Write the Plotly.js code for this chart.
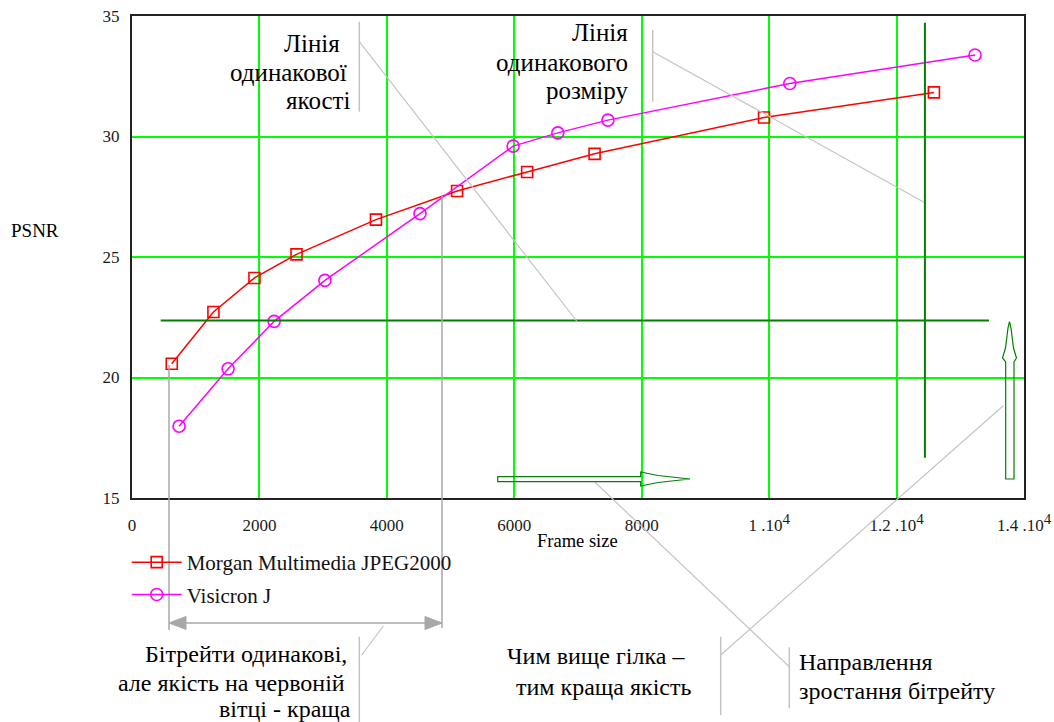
<!DOCTYPE html>
<html><head><meta charset="utf-8">
<script src="https://cdn.plot.ly/plotly-3.0.1.min.js"></script>
<style>html,body{margin:0;padding:0;background:#fff}#chart{width:1054px;height:722px}</style>
</head><body><div id="chart"></div>
<script>
// ---- data ----
const seriesNames = ['Morgan Multimedia JPEG2000', 'Visicron J'];
const morganFrameSize = [624, 1278, 1922, 2582, 3829, 5102, 6202, 7260, 9920, 12586];
const morganPSNR      = [20.57, 22.72, 24.13, 25.11, 26.55, 27.74, 28.53, 29.28, 30.79, 31.83];
const visicronFrameSize = [739, 1508, 2231, 3028, 4520, 5982, 6683, 7469, 10324, 13231];
const visicronPSNR      = [17.98, 20.36, 22.33, 24.03, 26.8, 29.6, 30.15, 30.68, 32.2, 33.38];
const xTickValues = [0, 2000, 4000, 6000, 8000, 10000, 12000, 14000];
const xTickLabels = ['0', '2000', '4000', '6000', '8000',
  '1 .10<sup><span style="font-size:15px">4</span></sup>',
  '1.2 .10<sup><span style="font-size:15px">4</span></sup>',
  '1.4 .10<sup><span style="font-size:15px">4</span></sup>'];
const yTickValues = [15, 20, 25, 30, 35];
const yTickLabels = ['15', '20', '25', '30', '35'];
const xAxisLabel = 'Frame size';
const yAxisLabel = 'PSNR';
const noteSameQuality = ['Лінія', 'одинакової', 'якості'];
const noteSameSize = ['Лінія', 'одинакового', 'розміру'];
const noteBitrates = ['Бітрейти одинакові,', 'але якість на червоній', 'вітці - краща'];
const noteHigher = ['Чим вище гілка –', 'тим краща якість'];
const noteDirection = ['Направлення', 'зростання бітрейту'];
// reference lines (data units)
const sameQualityPSNR = 22.37;
const sameSizeFrame = 12445;

// ---- layout helpers (pixel -> paper) ----
const L = 132, R = 1024, T = 16, B = 498;
const px = x => (x - L) / (R - L);
const py = y => (B - y) / (B - T);
const SERIF = "'Liberation Serif', 'Times New Roman', serif";

function seg(x0, y0, x1, y1, color, width) {
  return {type: 'line', xref: 'paper', yref: 'paper', x0: px(x0), y0: py(y0), x1: px(x1), y1: py(y1),
          line: {color: color, width: width}, layer: 'above'};
}
function poly(pts, line, fill, w) {
  const d = pts.map((p, i) => (i ? 'L' : 'M') + px(p[0]).toFixed(5) + ',' + py(p[1]).toFixed(5)).join(' ') + ' Z';
  return {type: 'path', xref: 'paper', yref: 'paper', path: d, line: {color: line, width: w || 1.2},
          fillcolor: fill, layer: 'above'};
}
function whiteBox(x0, y0, x1, y1) {
  return {type: 'rect', xref: 'paper', yref: 'paper', x0: px(x0), y0: py(y0), x1: px(x1), y1: py(y1),
          line: {width: 0}, fillcolor: '#fff', layer: 'between'};
}

const traces = [
  {x: morganFrameSize, y: morganPSNR, name: seriesNames[0], type: 'scatter', mode: 'lines+markers',
   line: {color: '#ff0000', width: 1.5},
   marker: {symbol: 'square-open', size: 11, color: '#ff0000', line: {width: 1.6, color: '#ff0000'}},
   legendgroup: 'a'},
  {x: visicronFrameSize, y: visicronPSNR, name: seriesNames[1], type: 'scatter', mode: 'lines+markers',
   line: {color: '#ff00ff', width: 1.5},
   marker: {symbol: 'circle-open', size: 12, color: '#ff00ff', line: {width: 1.6, color: '#ff00ff'}},
   legendgroup: 'b'}
];

const gLight = '#c4c4c4', gMid = '#a8a8a8', dkGreen = '#008000';
const shapes = [
  // white gaps in the grid behind the top notes
  whiteBox(230, 25, 356, 118),
  whiteBox(498, 28, 632, 95),
  // dark green reference lines
  {type: 'line', xref: 'x', yref: 'y', x0: 450, x1: 13450, y0: sameQualityPSNR, y1: sameQualityPSNR,
   line: {color: dkGreen, width: 2}},
  {type: 'line', xref: 'x', yref: 'y', x0: sameSizeFrame, x1: sameSizeFrame, y0: 16.67, y1: 34.72,
   line: {color: dkGreen, width: 2}},
  // leader for "same quality"
  seg(359.3, 21.7, 359.3, 111.7, gLight, 1.5),
  seg(359.3, 41.7, 576.7, 321, gLight, 1.2),
  // leader for "same size"
  seg(652.7, 30, 652.7, 101.7, gLight, 1.5),
  seg(652.7, 51.7, 924, 202.3, gLight, 1.2),
  // equal bitrate bracket
  seg(169, 365, 169, 630, gMid, 1.5),
  seg(442, 195, 442, 628, gMid, 1.5),
  seg(180, 623, 432, 623, gMid, 1.5),
  poly([[169, 623], [186, 616.5], [186, 629.5]], gMid, gMid, 1),
  poly([[442, 623], [425, 616.5], [425, 629.5]], gMid, gMid, 1),
  seg(383.3, 626, 361.7, 655, gLight, 1.2),
  seg(359.3, 636.7, 359.3, 722, gLight, 1.5),
  // "higher branch" leader
  seg(720.7, 636.7, 720.7, 715, gLight, 1.5),
  seg(720.7, 655, 1003.3, 405.7, gLight, 1.2),
  // "bitrate direction" leader
  seg(789.3, 647.3, 789.3, 708.3, gLight, 1.5),
  seg(789.3, 666.7, 595, 482.3, gLight, 1.2),
  // hollow green arrows
  poly([[497.7, 476.7], [640.7, 476.7], [640.7, 472], [648, 473.5], [658, 475.5], [690, 479],
        [658, 482.5], [648, 484.5], [640.7, 486], [640.7, 481.7], [497.7, 481.7]], dkGreen, 'rgba(0,0,0,0)', 1.2),
  poly([[1005.7, 479], [1014, 479], [1014, 362], [1016.5, 358], [1013.5, 348], [1012, 336], [1011, 328],
        [1009.5, 321.7], [1008, 328], [1007, 336], [1005.5, 348], [1002.5, 358], [1005.7, 362]], dkGreen, 'rgba(0,0,0,0)', 1.2)
];

const ann = (text, x, y, xa, size) => ({
  text: text, xref: 'paper', yref: 'paper', x: px(x), y: py(y), xanchor: xa, yanchor: 'middle',
  align: xa === 'center' ? 'center' : xa, showarrow: false, font: {family: SERIF, size: size, color: '#000'},
  borderpad: 0
});

const annotations = [
  ann(noteSameQuality[0], 341, 43, 'right', 25),
  ann(noteSameQuality[1], 348, 72.5, 'right', 25),
  ann(noteSameQuality[2], 352, 100.5, 'right', 25),
  ann(noteSameSize[0], 629, 33, 'right', 25),
  ann(noteSameSize[1], 629, 63, 'right', 25),
  ann(noteSameSize[2], 629, 90.5, 'right', 25),
  ann(noteBitrates[0], 348, 654, 'right', 24),
  ann(noteBitrates[1], 346, 683, 'right', 24),
  ann(noteBitrates[2], 352, 709, 'right', 24),
  ann(noteHigher[0], 686, 656, 'right', 24),
  ann(noteHigher[1], 692, 687, 'right', 24),
  ann(noteDirection[0], 797.7, 662, 'left', 24),
  ann(noteDirection[1], 797.7, 691, 'left', 24),
  ann(xAxisLabel, 577, 541, 'center', 18.5),
  ann(yAxisLabel, 35, 230, 'center', 19)
];

const axisCommon = {
  showline: true, linecolor: '#222', linewidth: 2, mirror: true,
  showgrid: true, gridcolor: '#00ff00', gridwidth: 2, zeroline: false,
  ticks: 'outside', tickcolor: 'rgba(0,0,0,0)',
  tickfont: {family: SERIF, size: 17, color: '#1a1a1a'}
};

const layout = {
  width: 1054, height: 722,
  margin: {l: L, r: 1054 - R, t: T, b: 722 - B},
  paper_bgcolor: '#fff', plot_bgcolor: '#fff',
  xaxis: Object.assign({}, axisCommon, {range: [0, 14000], tickvals: xTickValues, ticktext: xTickLabels, ticklen: 11}),
  yaxis: Object.assign({}, axisCommon, {range: [15, 35], tickvals: yTickValues, ticktext: yTickLabels, ticklen: 7}),
  showlegend: true,
  legend: {x: px(126.7), y: py(542), xanchor: 'left', yanchor: 'top', bgcolor: 'rgba(0,0,0,0)',
           font: {family: SERIF, size: 21, color: '#111'}, tracegroupgap: 2, traceorder: 'grouped', itemwidth: 50},
  shapes: shapes,
  annotations: annotations
};

Plotly.newPlot('chart', traces, layout, {displayModeBar: false, staticPlot: true});
</script></body></html>
